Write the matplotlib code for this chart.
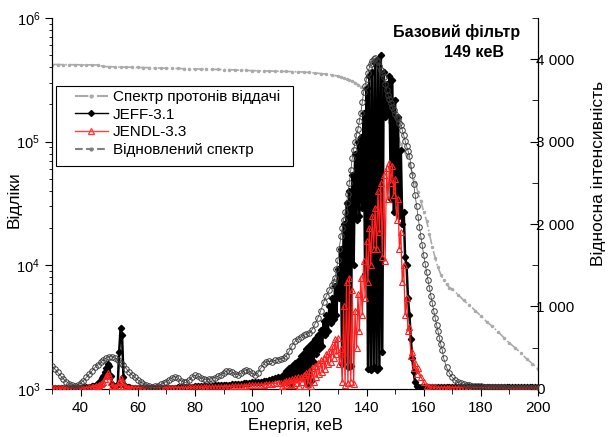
import numpy as np
import matplotlib
matplotlib.use('Agg')
import matplotlib.pyplot as plt
from matplotlib.lines import Line2D
from matplotlib.patches import Rectangle
from matplotlib.ticker import FuncFormatter, MultipleLocator, LogLocator

plt.rcParams['font.family'] = ['Liberation Sans', 'DejaVu Sans']
plt.rcParams['mathtext.fontset'] = 'custom'
plt.rcParams['mathtext.rm'] = 'Liberation Sans'

# Спектр протонів віддачі (ліва вісь, відліки)
proton_e = np.r_[np.arange(30, 129, 2), np.arange(130, 170), np.arange(170, 201, 2)]
proton_v = [
    4.2e5, 4.2e5, 4.19e5, 4.19e5, 4.18e5, 4.18e5, 4.17e5, 4.17e5, 4.16e5, 4.05e5,
    4.03e5, 4.02e5, 4.01e5, 4.0e5, 3.99e5, 3.98e5, 3.97e5, 3.96e5, 3.95e5, 3.93e5,
    3.92e5, 3.91e5, 3.9e5, 3.89e5, 3.88e5, 3.87e5, 3.86e5, 3.85e5, 3.84e5, 3.83e5,
    3.82e5, 3.81e5, 3.8e5, 3.77e5, 3.76e5, 3.75e5, 3.74e5, 3.73e5, 3.72e5, 3.71e5,
    3.7e5, 3.69e5, 3.68e5, 3.67e5, 3.65e5, 3.62e5, 3.59e5, 3.55e5, 3.51e5, 3.46e5,
    3.38e5, 3.33e5, 3.28e5, 3.22e5, 3.16e5, 3.08e5, 2.99e5, 2.89e5, 2.78e5, 2.66e5,
    2.54e5, 2.41e5, 2.28e5, 2.14e5, 2.0e5, 1.86e5, 1.72e5, 1.58e5, 1.45e5, 1.31e5,
    1.18e5, 1.07e5, 9.6e4, 8.6e4, 7.6e4, 6.6e4, 5.6e4, 4.7e4, 3.9e4, 3.3e4,
    2.7e4, 2.3e4, 1.8e4, 1.4e4, 1.15e4, 9.6e3, 8.4e3, 7.6e3, 7.0e3, 6.6e3,
    6.4e3, 5.8e3, 5.2e3, 4.75e3, 4.3e3, 3.9e3, 3.5e3, 3.2e3, 2.9e3, 2.6e3,
    2.35e3, 2.15e3, 1.95e3, 1.75e3, 1.6e3, 1.45e3,
]

# JEFF-3.1
jeff_e = np.r_[np.arange(30, 45), np.arange(44.5, 58.01, 0.5), np.arange(59, 111),
               np.arange(110.5, 158.01, 0.5), np.arange(159, 201)]
jeff_v = [
    15, 12, 10, 10, 10, 10, 10, 12, 12, 15, 15, 18, 20, 25, 30,
    35, 40, 50, 60, 80, 100, 130, 160, 200, 250, 300, 280, 160, 60,
    30, 25, 30, 60, 450, 740, 650, 150, 40, 25, 20, 18, 16, 15,
    15, 15, 14, 14, 14, 14, 14, 14, 15, 15,
    15, 16, 16, 17, 17, 18, 18, 19, 20, 21,
    22, 30, 32, 33, 35, 36, 38, 40, 42, 44,
    46, 48, 50, 52, 55, 58, 60, 63, 66, 70,
    74, 78, 82, 86, 90, 95, 100, 110, 120, 130,
    140, 150,
    90, 180, 110, 220, 80, 250, 60, 280, 120, 320,
    150, 340, 160, 400, 200, 440, 120, 480, 60, 520,
    100, 560, 330, 600, 420, 660, 480, 720, 520, 820,
    650, 900, 700, 1000, 800, 1100, 850, 1250, 900, 1450,
    1100, 1700, 300, 2000, 350, 2250, 260, 2400, 280, 2600,
    1500, 2850, 2050, 3000, 2100, 3050, 2200, 3350, 1400, 3650,
    240, 3800, 230, 3850, 260, 3950, 230, 4000, 250, 4050,
    450, 3850, 3300, 3700, 3350, 3800, 2300, 3750, 2150, 3500,
    2150, 3300, 2100, 2900, 2000, 2150, 1600, 1500, 1100, 900,
    600, 380, 200, 80, 30, 20,
    25, 22, 20, 20, 20, 20, 20, 20, 20, 20,
    20, 20, 20, 20, 20, 20, 20, 20, 20, 20,
    20, 20, 20, 20, 20, 20, 20, 20, 20, 20,
    20, 20, 20, 20, 20, 20, 20, 20, 20, 20, 20, 20,
]

# JENDL-3.3
jendl_e = jeff_e
jendl_v = [
    10, 10, 10, 10, 10, 10, 10, 10, 10, 10, 12, 12, 15, 18, 20,
    22, 25, 30, 35, 45, 55, 70, 90, 120, 160, 190, 170, 90, 30,
    20, 20, 25, 40, 90, 130, 100, 40, 20, 18, 16, 15, 15, 15,
    15, 15, 15, 15, 15, 15, 15, 15, 15, 15,
    15, 16, 16, 16, 17, 17, 17, 18, 18, 18,
    19, 19, 20, 20, 21, 22, 22, 23, 24, 25,
    26, 27, 28, 29, 30, 32, 34, 36, 38, 40,
    42, 44, 46, 48, 50, 53, 56, 60, 64, 68,
    72, 76,
    40, 90, 50, 100, 45, 110, 60, 120, 50, 130,
    70, 140, 40, 150, 80, 170, 30, 190, 60, 220,
    30, 250, 90, 280, 150, 310, 180, 350, 200, 380,
    240, 420, 300, 460, 330, 520, 380, 600, 420, 620,
    300, 480, 80, 1000, 50, 1300, 70, 1350, 90, 1200,
    60, 950, 500, 1150, 700, 1350, 900, 1550, 1100, 1800,
    1300, 1950, 1500, 2100, 1700, 2200, 1700, 2400, 1900, 2500,
    1600, 2600, 1550, 2680, 2300, 2740, 2500, 2700, 2350, 2550,
    2050, 2300, 1700, 1900, 1300, 1500, 900, 1100, 700, 750,
    400, 450, 250, 320, 180, 250,
    150, 80, 40, 25, 20, 18, 16, 15, 15, 15,
    15, 15, 15, 15, 15, 15, 15, 15, 15, 15,
    15, 15, 15, 15, 15, 15, 15, 15, 15, 15,
    15, 15, 15, 15, 15, 15, 15, 15, 15, 15, 15, 15,
]

# Відновлений спектр
rec_e = np.r_[np.arange(30, 128), np.arange(128, 166.51, 0.5), np.arange(167, 201)]
rec_v = [
    280, 240, 200, 160, 120, 90, 65, 48, 40, 48,
    70, 100, 140, 180, 220, 260, 295, 325, 355, 375,
    390, 390, 375, 350, 320, 285, 245, 205, 170, 140,
    110, 85, 62, 45, 32, 25, 30, 40, 55, 70,
    88, 112, 138, 150, 130, 102, 82, 80, 110, 150,
    165, 155, 135, 120, 110, 115, 125, 138, 152, 172,
    195, 215, 222, 202, 182, 172, 188, 215, 230, 215,
    188, 168, 195, 250, 300, 330, 335, 332, 345, 355,
    362, 375, 405, 460, 525, 578, 610, 632, 650, 662,
    680, 720, 790, 860, 950, 1050, 1130, 1200,
    1260, 1300, 1350, 1450, 1560, 1700, 1850, 1950, 2050, 2150,
    2250, 2370, 2500, 2650, 2800, 2900, 3000, 3080, 3150, 3250,
    3350, 3480, 3600, 3680, 3760, 3830, 3900, 3940, 3980, 4000,
    4010, 3990, 3960, 3920, 3870, 3830, 3780, 3700, 3630, 3570,
    3520, 3470, 3420, 3380, 3340, 3300, 3270, 3230, 3200, 3140,
    3080, 3010, 2950, 2890, 2830, 2720, 2600, 2480, 2350, 2220,
    2090, 1970, 1850, 1740, 1620, 1520, 1420, 1320, 1230, 1130,
    1040, 950, 860, 780, 700, 620, 540, 470,
    370, 260, 190,
    140, 105, 82, 66, 55, 48, 43, 39, 36, 33,
    30, 28, 26, 24, 22, 21, 20, 19, 18, 17,
    16, 15, 15, 14, 14, 13, 13, 12, 12, 12, 12,
]

labels = ['Спектр протонів віддачі', 'JEFF-3.1', 'JENDL-3.3', 'Відновлений спектр']

fig = plt.figure(figsize=(6.08, 4.37), dpi=100)
ax = fig.add_axes([0.0855, 0.11, 0.7995, 0.849])
ax2 = ax.twinx()

ax.plot(proton_e, proton_v, color='#aaaaaa', ls='-.', lw=1.2, marker='.', ms=3)
ax.set_yscale('log')
ax.set_xlim(30, 200)
ax.set_ylim(1e3, 1e6)

ax2.plot(jeff_e, jeff_v, color='black', lw=1.8, marker='D', ms=3.2, zorder=2)
ax2.plot(jendl_e, jendl_v, color='#ff2020', lw=0.9, marker='^', ms=4.5,
         mfc='none', mew=0.8, zorder=3)
ax2.plot(rec_e, rec_v, color='#3a3a3a', lw=0.5, marker='o', ms=4,
         mfc='none', mew=0.7, zorder=4)
ax2.set_ylim(0, 4500)

for a in (ax, ax2):
    a.spines['top'].set_visible(False)

ax.xaxis.set_major_locator(MultipleLocator(20))
ax.xaxis.set_minor_locator(MultipleLocator(10))
ax.tick_params(axis='x', which='major', direction='out', length=5, labelsize=11)
ax.tick_params(axis='x', which='minor', direction='out', length=3.5)
ax.yaxis.set_major_locator(LogLocator(base=10))
ax.yaxis.set_minor_locator(LogLocator(base=10, subs=np.arange(2, 10)))
ax.tick_params(axis='y', which='major', direction='out', length=5, labelsize=10.5)
ax.tick_params(axis='y', which='minor', direction='out', length=2.5)

ax2.yaxis.set_major_locator(MultipleLocator(1000))
ax2.yaxis.set_minor_locator(MultipleLocator(500))
ax2.yaxis.set_major_formatter(FuncFormatter(lambda v, p: f'{int(v):,}'.replace(',', ' ')))
ax2.tick_params(axis='y', which='major', direction='in', length=6, pad=-1.5, labelsize=11)
ax2.tick_params(axis='y', which='minor', direction='in', length=4)

ax.set_xlabel('Енергія, кеВ', fontsize=12, labelpad=2)
ax.set_ylabel('Відліки', fontsize=12.5)
ax.yaxis.set_label_coords(-0.062, 0.51)
ax2.set_ylabel('Відносна інтенсивність', fontsize=12.5)
ax2.yaxis.set_label_coords(1.108, 0.58)

ax2.text(193.7, 0.962, 'Базовий фільтр', transform=ax2.get_xaxis_transform(),
         ha='right', va='center', fontsize=11.5, fontweight='bold')
ax2.text(188.1, 0.908, '149 кеВ', transform=ax2.get_xaxis_transform(),
         ha='right', va='center', fontsize=11.5, fontweight='bold')

# рамка легенди
ax2.add_patch(Rectangle((0.0082, 0.601), 0.488, 0.216, transform=ax2.transAxes,
                        facecolor='white', edgecolor='black', lw=0.8, zorder=9))
handles = [
    Line2D([], [], color='#aaaaaa', ls='-.', marker='.', ms=4),
    Line2D([], [], color='black', ls='-', lw=1, marker='D', ms=3),
    Line2D([], [], color='#ff4040', ls='-', lw=1, marker='^', ms=4, mfc='none'),
    Line2D([], [], color='#808080', ls='--', marker='.', ms=4),
]
leg = ax2.legend(handles, labels, loc='upper left', bbox_to_anchor=(0.047, 0.806),
                 fontsize=11, frameon=False, handlelength=2.16, handletextpad=0.33,
                 labelspacing=0.24, borderpad=0, borderaxespad=0)
leg.set_zorder(10)

fig.savefig('out.png', dpi=100)
